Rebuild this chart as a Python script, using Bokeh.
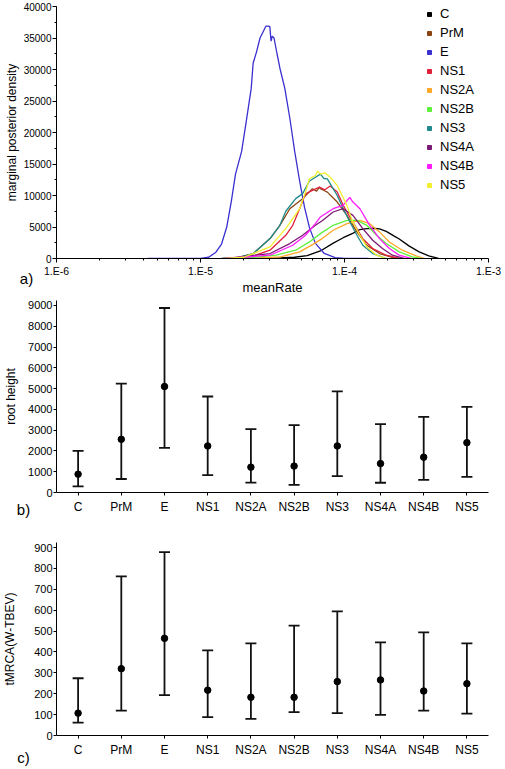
from bokeh.plotting import figure
from bokeh.models import (Range1d, FactorRange, SingleIntervalTicker, FixedTicker,
                          CustomJSTickFormatter, Legend, LegendItem, Label, Whisker,
                          TeeHead, ColumnDataSource)
from bokeh.layouts import column
from bokeh.embed import file_html
from bokeh.resources import INLINE

FONT = "Liberation Sans"

# ---------------- data ----------------
genes = ["C", "PrM", "E", "NS1", "NS2A", "NS2B", "NS3", "NS4A", "NS4B", "NS5"]
colors = ["#000000", "#8b4513", "#3a2fcf", "#e0203c", "#ffa726",
          "#5cf23a", "#208a8a", "#7b1a75", "#ff1aff", "#f0f030"]

# panel a: marginal posterior density of meanRate (rate in units of 1e-5)
c_rate = [2.5, 3.5, 4.5, 5.5, 6.8, 8.3, 9.8, 11.4, 12.8, 14.3, 15.7, 17.5, 19.5, 22.0, 24.0, 28.0, 33.0, 38.5, 45.0]
c_dens = [0, 80, 200, 450, 1200, 2400, 3300, 4000, 4600, 4750, 4800, 4700, 4300, 3600, 3100, 2000, 1050, 420, 0]

prm_rate = [1.4, 1.78, 2.33, 3.04, 3.56, 4.17, 5.12, 5.99, 6.4, 6.7, 6.8, 7.2, 7.6, 8.9, 10.4, 12.2, 14.3, 17.5, 22.9]
prm_dens = [0, 100, 790, 3160, 5270, 7900, 9500, 11070, 10700, 11330, 11070, 10800, 10540, 8960, 6850, 4220, 2100, 790, 0]

e_rate = [0.43, 1.0, 1.14, 1.28, 1.40, 1.52, 1.64, 1.75, 1.93, 2.08, 2.25, 2.32, 2.45, 2.59, 2.75, 2.85, 2.95,
          3.03, 3.09, 3.15, 3.24, 3.40, 3.56, 3.85, 4.17, 4.51, 4.88, 5.28, 5.71, 6.28, 7.24, 8.61, 10.0, 14.7]
e_dens = [0, 0, 200, 1000, 2300, 4950, 9200, 13400, 17000, 21800, 27000, 31000, 32800, 35000, 36200, 36900, 36900,
          36800, 34500, 35300, 35000, 32500, 30200, 27000, 22300, 17000, 12300, 8100, 4900, 2400, 800, 150, 0, 0]

ns1_rate = [1.5, 2.2, 3.04, 3.91, 4.37, 4.88, 5.36, 5.99, 6.7, 7.3, 7.96, 8.9, 9.8, 11.4, 13.4, 15.7, 19.5, 24.0]
ns1_dens = [0, 200, 1320, 3690, 5270, 7900, 10280, 10800, 11330, 10900, 11500, 10540, 8430, 5800, 3160, 1580, 520, 0]

ns2a_rate = [2.0, 3.6, 4.88, 5.99, 7.0, 8.34, 10.4, 12.8, 14.95, 17.5, 20.5, 25.2, 31.4, 36.0]
ns2a_dens = [0, 260, 1050, 2210, 3160, 4480, 5530, 6060, 5530, 4220, 2630, 1320, 420, 0]

ns2b_rate = [2.0, 3.34, 4.58, 5.71, 6.8, 8.34, 10.4, 12.2, 14.3, 16.7, 19.5, 24.0, 29.5, 34.0]
ns2b_dens = [0, 520, 1320, 2630, 3950, 5270, 6060, 6060, 5270, 3690, 2370, 1050, 260, 0]

ns3_rate = [1.4, 1.78, 2.33, 3.04, 3.56, 3.91, 4.58, 5.12, 5.71, 6.28, 6.8, 7.2, 7.6, 8.9, 9.8, 10.9, 12.2, 13.4, 15.7, 19.5]
ns3_dens = [0, 100, 790, 3160, 5270, 7500, 9500, 10300, 12300, 12900, 13400, 12700, 12650, 10000, 7900, 5800, 3690, 2100, 790, 0]

ns4a_rate = [1.5, 3.04, 4.17, 5.12, 6.28, 7.0, 8.34, 9.77, 11.44, 13.4, 15.7, 18.35, 21.5, 26.0]
ns4a_dens = [0, 790, 2370, 3690, 5270, 6000, 7380, 7900, 6850, 4740, 2900, 1580, 520, 0]

ns4b_rate = [1.5, 3.04, 4.37, 5.36, 6.28, 6.8, 8.34, 9.77, 10.4, 10.9, 11.4, 12.8, 14.95, 17.5, 20.5, 24.0, 29.0]
ns4b_dens = [0, 520, 2100, 3690, 5530, 6590, 7900, 8430, 9200, 9700, 9000, 7900, 5270, 3160, 1580, 520, 0]

ns5_rate = [1.5, 2.0, 3.04, 3.91, 4.88, 5.36, 5.71, 6.28, 6.5, 6.8, 7.3, 7.96, 8.9, 10.4, 11.4, 12.8, 14.3, 16.7, 19.5]
ns5_dens = [0, 200, 1840, 4740, 7900, 10540, 12650, 13170, 13900, 13400, 13600, 12900, 11600, 8430, 5800, 3690, 1840, 520, 0]

# panel b: root height (median and 95% HPD)
root_median = [880, 2560, 5100, 2240, 1220, 1270, 2240, 1390, 1700, 2400]
root_lower = [290, 650, 2150, 840, 480, 370, 790, 470, 610, 750]
root_upper = [2000, 5240, 8880, 4620, 3050, 3240, 4870, 3290, 3640, 4120]

# panel c: tMRCA(W-TBEV)
tmrca_median = [107, 320, 465, 217, 183, 183, 258, 266, 213, 248]
tmrca_lower = [62, 119, 193, 88, 80, 112, 107, 99, 119, 105]
tmrca_upper = [274, 762, 878, 408, 441, 526, 594, 446, 494, 441]

decades = [-6, -5, -4, -3]

series_rates = [c_rate, prm_rate, e_rate, ns1_rate, ns2a_rate, ns2b_rate, ns3_rate, ns4a_rate, ns4b_rate, ns5_rate]
series_dens = [c_dens, prm_dens, e_dens, ns1_dens, ns2a_dens, ns2b_dens, ns3_dens, ns4a_dens, ns4b_dens, ns5_dens]

W = 503


def style_axis(ax, font_size):
    ax.major_label_text_font = FONT
    ax.major_label_text_font_size = font_size
    ax.major_label_text_color = "black"
    ax.axis_label_text_font = FONT
    ax.axis_label_text_font_style = "normal"
    ax.axis_label_text_color = "black"
    ax.axis_line_color = "black"
    ax.major_tick_line_color = "black"
    ax.minor_tick_line_color = "black"
    ax.major_tick_in = 0
    ax.minor_tick_in = 0


def tag_label(text, x, y):
    return Label(x=x, y=y, x_units="screen", y_units="screen", text=text,
                 text_font=FONT, text_font_size="15px", text_align="center",
                 text_baseline="middle", text_color="black")


# ---------------- panel a ----------------
HA = 297
pa = figure(width=W, height=HA, x_axis_type="log",
            x_range=Range1d(1e-6, 1e-3), y_range=Range1d(0, 40000),
            output_backend="svg", toolbar_location=None,
            min_border_left=42, min_border_right=15, min_border_top=6, min_border_bottom=39)
pa.outline_line_color = None
pa.grid.visible = False

for rates, dens, col in zip(series_rates, series_dens, colors):
    pa.line([r * 1e-5 for r in rates], dens, line_color=col, line_width=1.3)

pa.xaxis.ticker = FixedTicker(ticks=[10.0 ** d for d in decades],
                              minor_ticks=[m * 10.0 ** d for d in decades[:-1] for m in range(2, 10)])
pa.xaxis.formatter = CustomJSTickFormatter(code="return '1.E' + Math.round(Math.log10(tick));")
pa.yaxis.ticker = SingleIntervalTicker(interval=5000, num_minor_ticks=2)
for ax in (pa.xaxis[0], pa.yaxis[0]):
    style_axis(ax, "10.5px")
pa.yaxis.major_label_text_font_size = "10px"
pa.xaxis.major_tick_out = 4
pa.xaxis.minor_tick_out = 2
pa.yaxis.major_tick_out = 4
pa.yaxis.minor_tick_out = 2
pa.xaxis.major_label_standoff = 2
pa.yaxis.major_label_standoff = 1
pa.xaxis.axis_label = "meanRate"
pa.xaxis.axis_label_text_font_size = "13px"
pa.xaxis.axis_label_standoff = 0
pa.yaxis.axis_label = "marginal posterior density"
pa.yaxis.axis_label_text_font_size = "12px"
pa.yaxis.axis_label_standoff = 2

items = []
for name, col in zip(genes, colors):
    r = pa.scatter(x=[1e-5], y=[float("nan")], marker="square", size=7, fill_color=col, line_color=col)
    items.append(LegendItem(label=name, renderers=[r]))
legend = Legend(items=items, location=(368, 66), padding=0, spacing=4,
                glyph_width=10, glyph_height=12, label_height=12, label_standoff=6,
                label_text_font=FONT, label_text_font_size="13px", label_text_color="black",
                background_fill_alpha=0, border_line_color=None, margin=0)
pa.add_layout(legend)
# frame right is at 488 px, frame bottom at 258 px
pa.add_layout(tag_label("a)", 26 - 488, 258 - 278), "right")


# ---------------- panels b, c ----------------
def interval_panel(median, lower, upper, ymax, interval, ylabel, tag, height, top, bottom,
                   lab_standoff, tag_dy):
    p = figure(width=W, height=height, x_range=FactorRange(*genes), y_range=Range1d(0, ymax),
               output_backend="svg", toolbar_location=None,
               min_border_left=48, min_border_right=13, min_border_top=top, min_border_bottom=bottom)
    p.outline_line_color = None
    p.grid.visible = False
    src = ColumnDataSource(dict(x=genes, median=median, lower=lower, upper=upper))
    p.add_layout(Whisker(base="x", upper="upper", lower="lower", source=src,
                         line_color="#111111", line_width=1.8,
                         upper_head=TeeHead(size=11, line_width=1.8, line_color="#111111"),
                         lower_head=TeeHead(size=11, line_width=1.8, line_color="#111111")))
    p.scatter(x="x", y="median", source=src, size=6.5, color="black")
    p.yaxis.ticker = SingleIntervalTicker(interval=interval, num_minor_ticks=0)
    style_axis(p.xaxis[0], "12px")
    style_axis(p.yaxis[0], "11px")
    p.xaxis.major_tick_out = 3
    p.yaxis.major_tick_out = 3
    p.xaxis.major_label_standoff = 4
    p.yaxis.major_label_standoff = 1
    p.yaxis.axis_label = ylabel
    p.yaxis.axis_label_text_font_size = "12px"
    p.yaxis.axis_label_standoff = lab_standoff
    # frame right is at W - 13 = 490 px
    p.add_layout(tag_label(tag, 25 - (W - 13), tag_dy), "right")
    return p


HB = 222
HC = 250
pb = interval_panel(root_median, root_lower, root_upper, 9240, 1000, "root height", "b)",
                    HB, 3, 27, 7, -17)
pc = interval_panel(tmrca_median, tmrca_lower, tmrca_upper, 924, 100, "tMRCA(W-TBEV)", "c)",
                    HC, 23, 34, 14, -22)

layout = column(pa, pb, pc)
open("out.html", "w").write(file_html(layout, INLINE))
